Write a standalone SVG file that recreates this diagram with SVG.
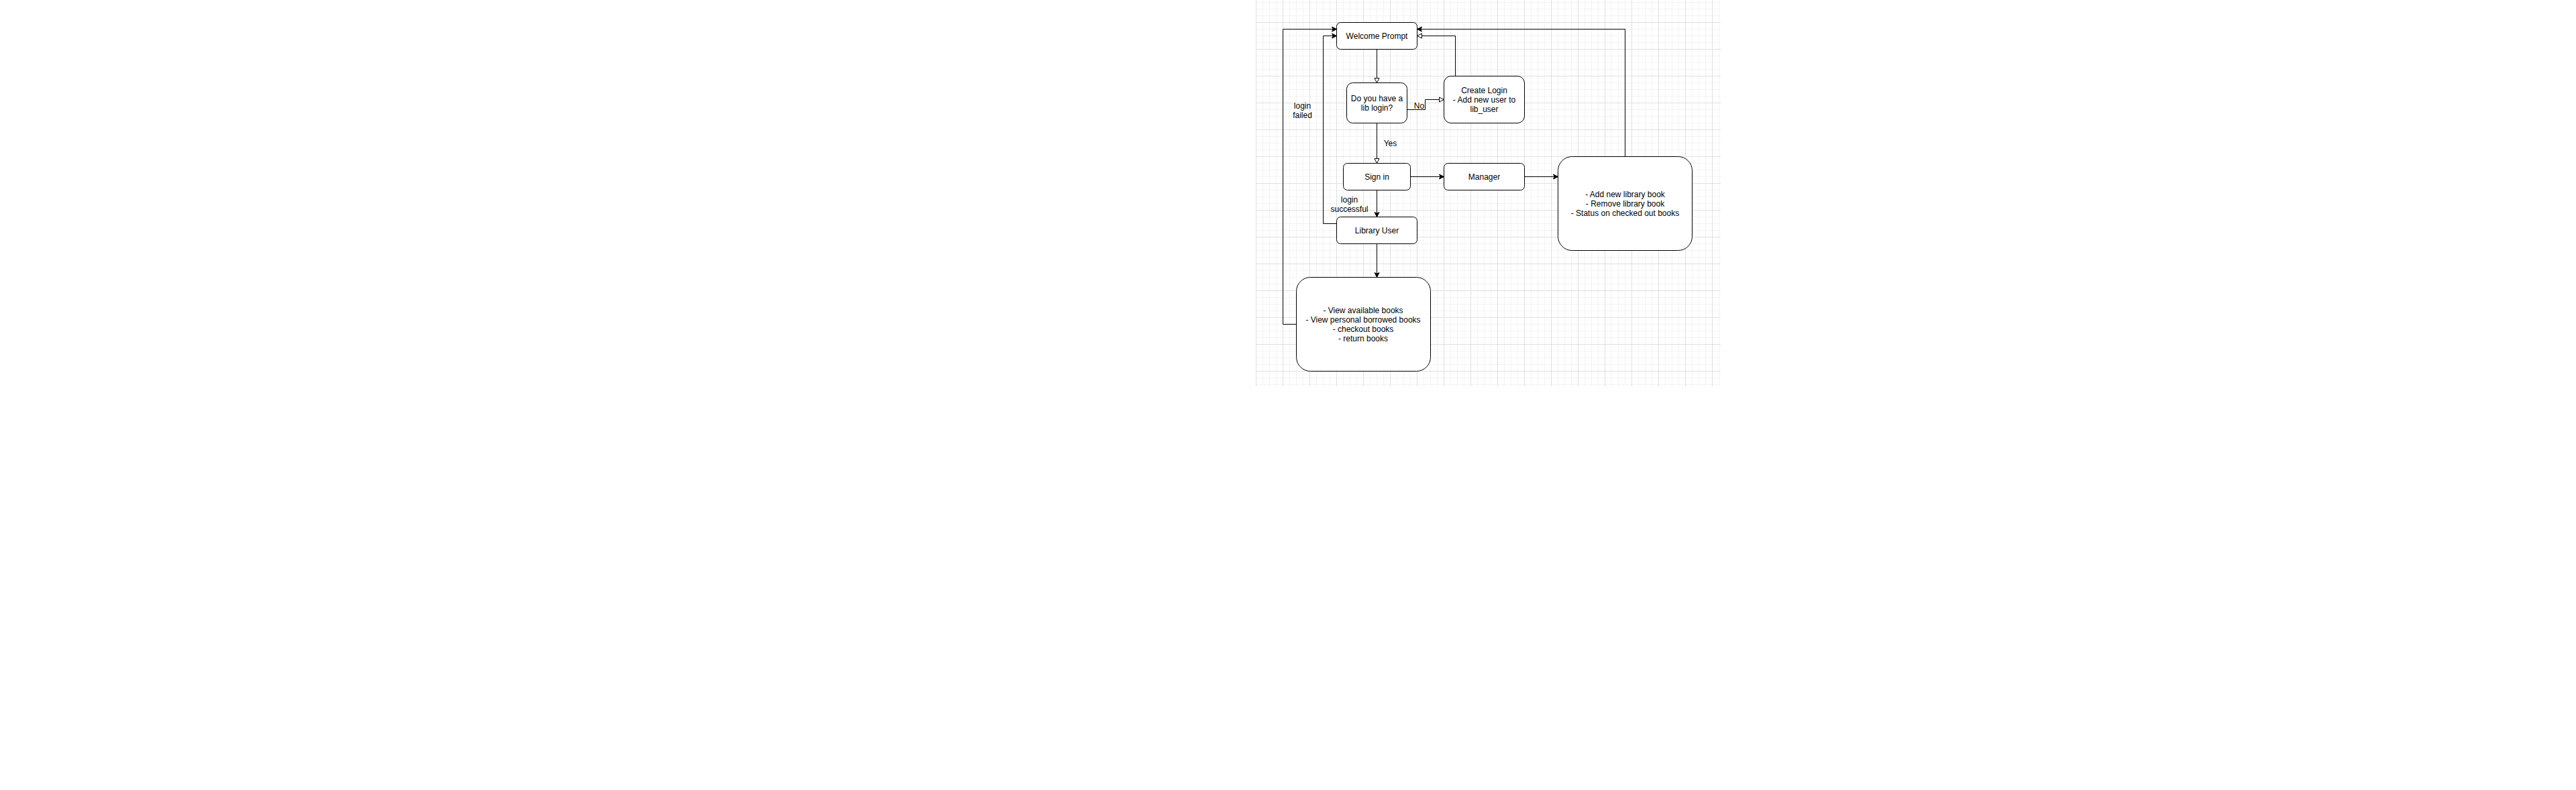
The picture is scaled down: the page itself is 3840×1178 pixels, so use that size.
<svg xmlns="http://www.w3.org/2000/svg" width="3840" height="1178" viewBox="0 0 3840 1178">
<style>
.node{fill:#ffffff;stroke:#000000;stroke-width:1}
.edge{fill:none;stroke:#000000;stroke-width:1}
.t{font-family:"Liberation Sans",Arial,Helvetica,sans-serif;font-size:12px;fill:#000000;text-anchor:middle}
</style>
<defs>
<pattern id="minor" patternUnits="userSpaceOnUse" x="-0.5" y="-0.5" width="10" height="10">
<rect x="0" y="0" width="1" height="10" fill="#f3f3f3"/>
<rect x="0" y="0" width="10" height="1" fill="#f3f3f3"/>
</pattern>
<pattern id="major" patternUnits="userSpaceOnUse" x="-0.5" y="19.5" width="40" height="40">
<rect x="0" y="0" width="1" height="40" fill="#e0e0e0"/>
<rect x="0" y="0" width="40" height="1" fill="#e0e0e0"/>
</pattern>
<marker id="classic" markerUnits="userSpaceOnUse" markerWidth="10" markerHeight="10" refX="7" refY="3.5" orient="auto" overflow="visible">
<path d="M7,3.5 L0,0 L1.75,3.5 L0,7 Z" fill="#000000" stroke="#000000" stroke-width="1"/>
</marker>
<marker id="block" markerUnits="userSpaceOnUse" markerWidth="10" markerHeight="10" refX="7" refY="3.5" orient="auto" overflow="visible">
<path d="M7,3.5 L0,0 L0,7 Z" fill="#ffffff" stroke="#000000" stroke-width="1"/>
</marker>
</defs>
<rect x="0" y="0" width="3840" height="1178" fill="#ffffff"/>
<g transform="translate(1872.5,13.5)">
<g id="grid">
<rect x="-0.5" y="-13.5" width="693" height="576" fill="url(#minor)"/>
<rect x="-0.5" y="-13.5" width="693" height="576" fill="url(#major)"/>
</g>
<g id="connectors">
<path class="edge" d="M60,470 L40,470 L40,30 L120,30" marker-end="url(#classic)"/>
<path class="edge" d="M120,320 L100,320 L100,40 L120,40" marker-end="url(#classic)"/>
<path class="edge" d="M180,60 L180,110" marker-end="url(#block)"/>
<path class="edge" d="M225,150 L252,150 L252,135 L280,135" marker-end="url(#block)"/>
<path class="edge" d="M297,100 L297,40 L240,40" marker-end="url(#block)"/>
<path class="edge" d="M180,170 L180,230" marker-end="url(#block)"/>
<path class="edge" d="M230,250 L280,250" marker-end="url(#classic)"/>
<path class="edge" d="M400,250 L450,250" marker-end="url(#classic)"/>
<path class="edge" d="M550,220 L550,30 L240,30" marker-end="url(#classic)"/>
<path class="edge" d="M180,270 L180,310" marker-end="url(#classic)"/>
<path class="edge" d="M180,350 L180,400" marker-end="url(#classic)"/>
<rect x="235" y="138" width="16" height="11.5" fill="#ffffff"/>
<text class="t" x="243" y="148.5">No</text>
<text class="t" x="200" y="204.5">Yes</text>
</g>
<g id="welcome">
<rect class="node" x="120" y="20" width="120" height="40" rx="6" ry="6"/>
<text class="t" x="180" y="44.3">Welcome Prompt</text>
</g>
<g id="decision">
<rect class="node" x="135" y="110" width="90" height="60" rx="9" ry="9"/>
<text class="t" x="180" y="137.8">Do you have a</text>
<text class="t" x="180" y="151.8">lib login?</text>
</g>
<g id="create-login">
<rect class="node" x="280" y="100" width="120" height="70" rx="10.5" ry="10.5"/>
<text class="t" x="340" y="125.8">Create Login</text>
<text class="t" x="340" y="139.8">- Add new user to</text>
<text class="t" x="340" y="153.8">lib_user</text>
</g>
<g id="sign-in">
<rect class="node" x="130" y="230" width="100" height="40" rx="6" ry="6"/>
<text class="t" x="180" y="254.4">Sign in</text>
</g>
<g id="manager">
<rect class="node" x="280" y="230" width="120" height="40" rx="6" ry="6"/>
<text class="t" x="340" y="254.4">Manager</text>
</g>
<g id="manager-features">
<rect class="node" x="450" y="220" width="200" height="140" rx="21" ry="21"/>
<text class="t" x="550" y="280.8">- Add new library book</text>
<text class="t" x="550" y="294.8">- Remove library book</text>
<text class="t" x="550" y="308.8">- Status on checked out books</text>
</g>
<g id="library-user">
<rect class="node" x="120" y="310" width="120" height="40" rx="6" ry="6"/>
<text class="t" x="180" y="334.4">Library User</text>
</g>
<g id="user-features">
<rect class="node" x="60" y="400" width="200" height="140" rx="21" ry="21"/>
<text class="t" x="159.5" y="453.7">- View available books</text>
<text class="t" x="159.5" y="467.7">- View personal borrowed books</text>
<text class="t" x="159.5" y="481.7">- checkout books</text>
<text class="t" x="159.5" y="495.7">- return books</text>
</g>
<g id="label-login-failed">
<text class="t" x="69" y="148.4">login</text>
<text class="t" x="69" y="162.4">failed</text>
</g>
<g id="label-login-successful">
<text class="t" x="139" y="288.4">login</text>
<text class="t" x="139" y="302.4">successful</text>
</g>
</g>
</svg>
